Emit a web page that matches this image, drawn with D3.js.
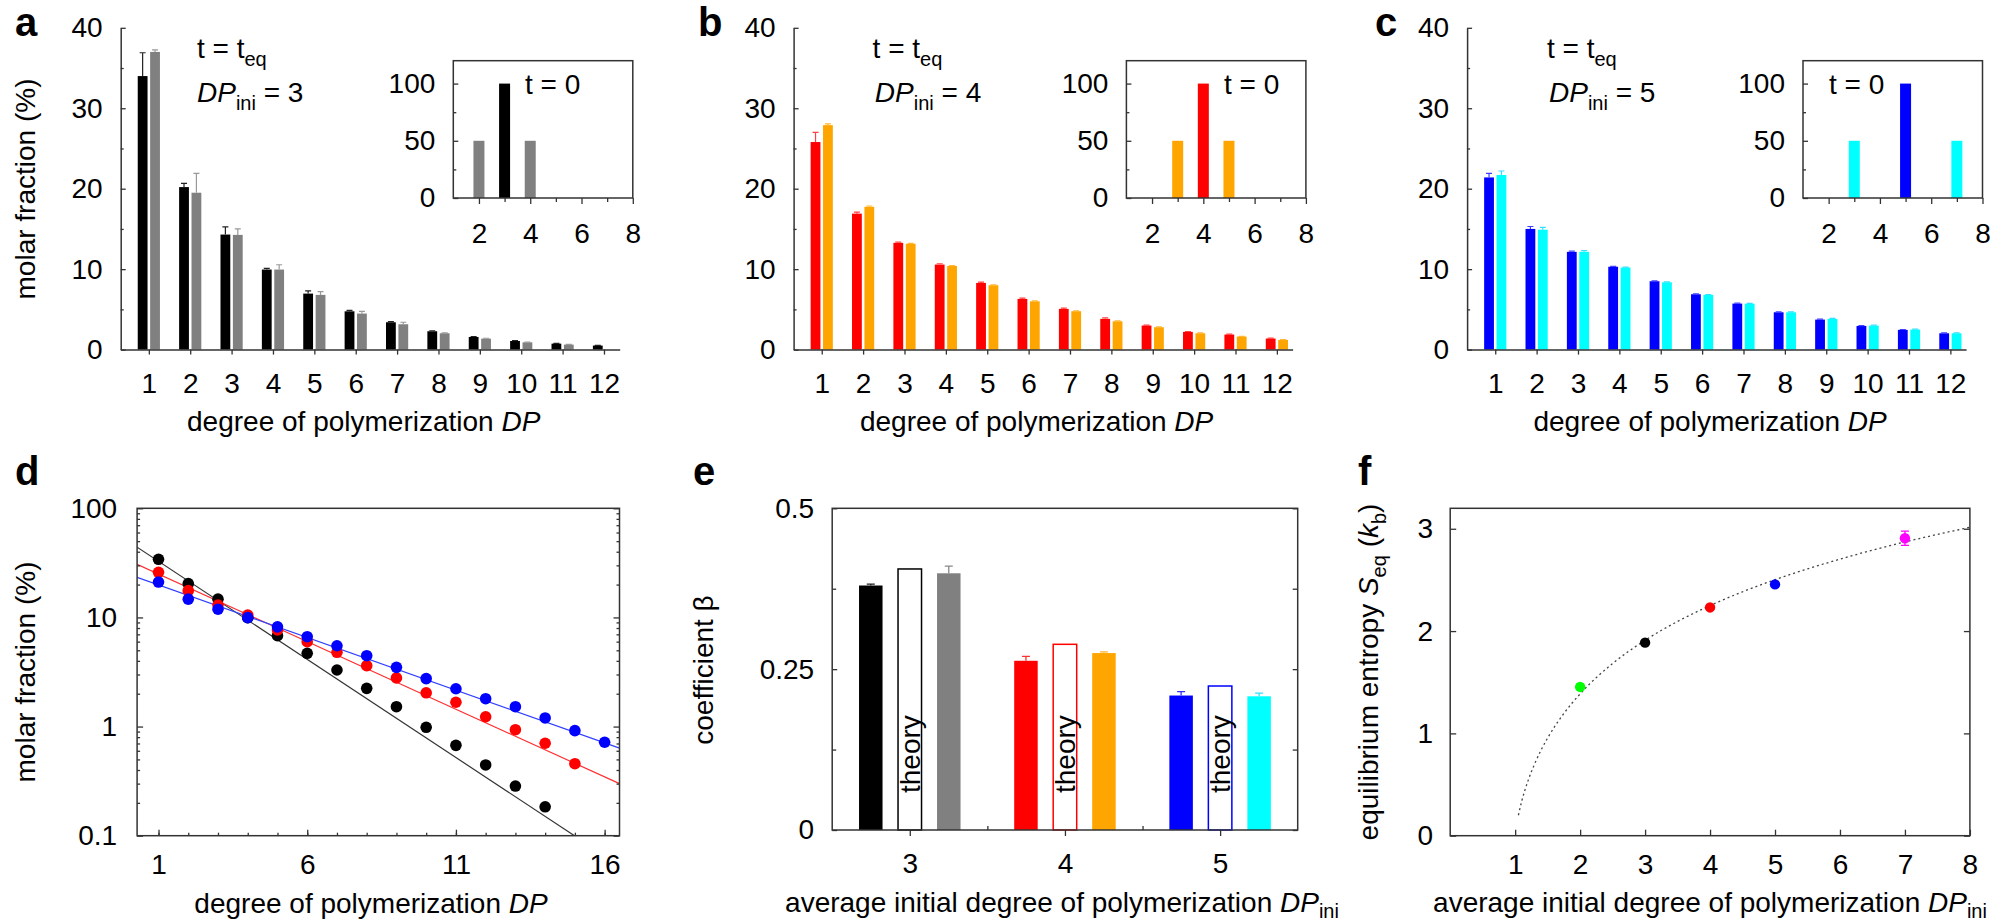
<!DOCTYPE html>
<html>
<head>
<meta charset="utf-8">
<script src="https://cdn.jsdelivr.net/npm/d3@7"></script>
<style>
  html, body { margin: 0; padding: 0; background: #fff; }
  svg { display: block; font-family: "Liberation Sans", Arial, Helvetica, sans-serif; }
</style>
</head>
<body>
<svg id="fig" width="2005" height="923"></svg>
<script>
// ---------------- data ----------------
// panels a-c: molar fraction (%) at equilibrium per degree of polymerization
const dpCategories = [1, 2, 3, 4, 5, 6, 7, 8, 9, 10, 11, 12];
const mainYTicks = [0, 10, 20, 30, 40];
const mainYMinor = [5, 15, 25, 35];

const aDark     = [34.0, 20.2, 14.3, 9.95, 6.96, 4.76, 3.40, 2.28, 1.57, 1.07, 0.74, 0.50];
const aDarkErr  = [2.9, 0.45, 0.95, 0.15, 0.35, 0.12, 0.08, 0.06, 0.06, 0.05, 0.04, 0.03];
const aLight    = [37.0, 19.5, 14.26, 9.95, 6.80, 4.48, 3.15, 2.03, 1.36, 0.90, 0.62, 0];
const aLightErr = [0.25, 2.4, 0.75, 0.6, 0.4, 0.28, 0.25, 0.05, 0.05, 0.04, 0.03, 0];

const bDark     = [25.8, 16.9, 13.27, 10.57, 8.29, 6.30, 5.06, 3.82, 2.99, 2.20, 1.87, 1.37];
const bDarkErr  = [1.2, 0.2, 0.1, 0.1, 0.1, 0.1, 0.1, 0.13, 0.05, 0.05, 0.05, 0.05];
const bLight    = [27.9, 17.75, 13.15, 10.4, 8.0, 6.0, 4.77, 3.52, 2.78, 2.03, 1.62, 1.20];
const bLightErr = [0.15, 0.1, 0.05, 0.05, 0.05, 0.05, 0.05, 0.05, 0.05, 0.04, 0.03, 0.03];

const cDark     = [21.4, 15.0, 12.15, 10.3, 8.5, 6.88, 5.72, 4.64, 3.73, 2.94, 2.45, 2.03];
const cDarkErr  = [0.5, 0.3, 0.1, 0.05, 0.05, 0.05, 0.05, 0.05, 0.05, 0.05, 0.05, 0.05];
const cLight    = [21.7, 14.9, 12.15, 10.2, 8.37, 6.8, 5.7, 4.64, 3.82, 2.98, 2.49, 2.03];
const cLightErr = [0.5, 0.3, 0.15, 0.05, 0.05, 0.05, 0.05, 0.05, 0.05, 0.05, 0.05, 0.05];

// insets: initial distribution at t = 0
const insetXTicks = [2, 4, 6, 8];
const insetXMinor = [3, 5, 7];
const insetYTicks = [0, 50, 100];
const insetYMinor = [25, 75];
const insetADP = [2, 3, 4], insetAVal = [50, 100, 50], insetARole = ["light", "dark", "light"];
const insetBDP = [3, 4, 5], insetBVal = [50, 100, 50], insetBRole = ["light", "dark", "light"];
const insetCDP = [3, 5, 7], insetCVal = [50, 100, 50], insetCRole = ["light", "dark", "light"];

// panel d: semi-log distributions with exponential fits
const dDP     = [1, 2, 3, 4, 5, 6, 7, 8, 9, 10, 11, 12, 13, 14, 15, 16];
const dBlack  = [34.1, 20.4, 14.7, 9.95, 6.8, 4.69, 3.3, 2.24, 1.52, 0.985, 0.673, 0.445, 0.285, 0.184];
const dRed    = [25.9, 17.6, 13.0, 10.5, 7.67, 6.0, 4.79, 3.61, 2.79, 2.04, 1.67, 1.23, 0.936, 0.703, 0.457];
const dBlue   = [21.1, 14.7, 11.9, 9.95, 8.2, 6.66, 5.5, 4.46, 3.49, 2.75, 2.22, 1.8, 1.52, 1.2, 0.917, 0.718];
const dFitX   = [0.28, 16.5];
const dFitBlack = [44.0, 0.0534];
const dFitRed   = [30.7, 0.30];
const dFitBlue  = [23.3, 0.634];
const dYTicks = [0.1, 1, 10, 100];
const dXTicks = [1, 6, 11, 16];

// panel e: coefficient beta
const eGroups    = [3, 4, 5];
const eDark      = [0.380, 0.263, 0.209];
const eDarkErr   = [0.002, 0.007, 0.006];
const eTheory    = [0.4057, 0.2886, 0.2238];
const eLight     = [0.399, 0.275, 0.2078];
const eLightErr  = [0.011, 0.002, 0.005];
const eYTicks = [0, 0.25, 0.5];
const eYMinor = [0.125, 0.375];

// panel f: equilibrium entropy
const fX    = [2, 3, 4, 5, 7];
const fY    = [1.454, 1.887, 2.231, 2.456, 2.907];
const fErr  = [0.02, 0.015, 0.02, 0.02, 0.07];
const fCurveX = [1.05, 1.1, 1.15, 1.2, 1.3, 1.4, 1.5, 1.75, 2, 2.5, 3, 3.5, 4, 4.5, 5, 5.5, 6, 6.5, 7, 7.5, 8];
const fCurveY = [0.20, 0.335, 0.445, 0.541, 0.702, 0.838, 0.955, 1.195, 1.386, 1.683, 1.910, 2.094, 2.249, 2.384, 2.502, 2.608, 2.703, 2.791, 2.871, 2.945, 3.014];
const fXTicks = [1, 2, 3, 4, 5, 6, 7, 8];
const fYTicks = [0, 1, 2, 3];

// ---------------- drawing ----------------
const svg = d3.select("#fig");
const AX = "#333";
const FONT = 28;
const SUB = 20;
const asText = d => String(d);

function addAxis(g, axis, tx, ty, noDomain) {
  const a = g.append("g").attr("transform", `translate(${tx},${ty})`).call(axis);
  a.attr("font-family", null).attr("font-size", null);
  a.select(".domain").attr("stroke", AX).attr("stroke-width", 1.5);
  if (noDomain) a.select(".domain").remove();
  a.selectAll(".tick line").attr("stroke", AX).attr("stroke-width", 1.3);
  a.selectAll(".tick text").attr("fill", "#000").attr("font-size", FONT);
  return a;
}

function panelLetter(x, y, s) {
  svg.append("text").attr("x", x).attr("y", y).attr("font-size", 40)
    .attr("font-weight", "bold").text(s);
}

function frame(g, x0, y0, x1, y1) {
  g.append("rect").attr("x", x0).attr("y", y0).attr("width", x1 - x0).attr("height", y1 - y0)
    .attr("fill", "none").attr("stroke", AX).attr("stroke-width", 1.5);
}

function errPath(cx, yv, ye, cap) {
  return `M${cx},${yv}V${ye}M${cx - cap},${ye}H${cx + cap}`;
}

function dpIniText(g, x, y, n) {
  const t = g.append("text").attr("x", x).attr("y", y).attr("font-size", FONT);
  t.append("tspan").attr("font-style", "italic").text("DP");
  t.append("tspan").attr("font-size", SUB).attr("dy", 8).text("ini");
  t.append("tspan").attr("dy", -8).text(" = " + n);
}

function teqText(g, x, y) {
  const t = g.append("text").attr("x", x).attr("y", y).attr("font-size", FONT);
  t.append("tspan").text("t = t");
  t.append("tspan").attr("font-size", SUB).attr("dy", 8).text("eq");
}

function dpIniAxisTitle(g, x, y) {
  const xl = g.append("text").attr("x", x).attr("y", y).attr("text-anchor", "middle").attr("font-size", FONT);
  xl.append("tspan").text("average initial degree of polymerization ");
  xl.append("tspan").attr("font-style", "italic").text("DP");
  xl.append("tspan").attr("font-size", SUB).attr("dy", 6).text("ini");
}

// ---- panels a, b, c ----
const topPanels = [
  { letter: "a", lx: 15, left: 120.7, dark: aDark, darkErr: aDarkErr, light: aLight, lightErr: aLightErr,
    cDark: "#000000", cLight: "#808080", eDark: "#222222", eLight: "#999999",
    teqX: 197, dpX: 197, ini: 3, insetLeft: 453.3, iDP: insetADP, iVal: insetAVal, iRole: insetARole, t0X: 525 },
  { letter: "b", lx: 698, left: 793.6, dark: bDark, darkErr: bDarkErr, light: bLight, lightErr: bLightErr,
    cDark: "#ff0000", cLight: "#ffa500", eDark: "#ff4040", eLight: "#ffb733",
    teqX: 872.6, dpX: 874.8, ini: 4, insetLeft: 1126.4, iDP: insetBDP, iVal: insetBVal, iRole: insetBRole, t0X: 1224 },
  { letter: "c", lx: 1375, left: 1467.1, dark: cDark, darkErr: cDarkErr, light: cLight, lightErr: cLightErr,
    cDark: "#0000ff", cLight: "#00ffff", eDark: "#4040ff", eLight: "#33e0ff",
    teqX: 1547, dpX: 1549, ini: 5, insetLeft: 1803, iDP: insetCDP, iVal: insetCVal, iRole: insetCRole, t0X: 1829 }
];

topPanels.forEach(p => {
  const g = svg.append("g");
  const x = d3.scaleLinear().domain([0.32, 12.38]).range([p.left, p.left + 499]);
  const y = d3.scaleLinear().domain([0, 40]).range([349.6, 27.8]);
  const w = 9.8, gap = 1.3;

  const rows = dpCategories.map((k, i) => ({ k, v: p.dark[i], e: p.darkErr[i], side: -1, c: p.cDark, ec: p.eDark }))
    .concat(dpCategories.map((k, i) => ({ k, v: p.light[i], e: p.lightErr[i], side: 1, c: p.cLight, ec: p.eLight })))
    .filter(d => d.v > 0);
  const cx = d => d.side < 0 ? x(d.k) - gap - w / 2 : x(d.k) + gap + w / 2;

  g.selectAll("rect.bar").data(rows).join("rect").attr("class", "bar")
    .attr("x", d => cx(d) - w / 2).attr("width", w)
    .attr("y", d => y(d.v)).attr("height", d => y(0) - y(d.v))
    .attr("fill", d => d.c);
  g.selectAll("path.err").data(rows.filter(d => d.e > 0)).join("path").attr("class", "err")
    .attr("d", d => errPath(cx(d), y(d.v), y(d.v + d.e), 3))
    .attr("fill", "none").attr("stroke", d => d.ec).attr("stroke-width", 1.2);

  addAxis(g, d3.axisLeft(y).tickValues(mainYTicks).tickFormat(asText).tickSize(-5).tickSizeOuter(0).tickPadding(18), p.left, 0);
  addAxis(g, d3.axisLeft(y).tickValues(mainYMinor).tickSize(-3).tickSizeOuter(0).tickFormat(""), p.left, 0, true);
  addAxis(g, d3.axisBottom(x).tickValues(dpCategories).tickFormat(asText).tickSize(5).tickSizeOuter(0).tickPadding(19), 0, y(0));

  // axis titles
  if (p.letter === "a") {
    g.append("text").attr("transform", "translate(35,189) rotate(-90)")
      .attr("text-anchor", "middle").attr("font-size", FONT).text("molar fraction (%)");
  }
  const xl = g.append("text").attr("x", p.left + 243).attr("y", 431)
    .attr("text-anchor", "middle").attr("font-size", FONT);
  xl.append("tspan").text("degree of polymerization ");
  xl.append("tspan").attr("font-style", "italic").text("DP");

  teqText(g, p.teqX, 58);
  dpIniText(g, p.dpX, 101.5, p.ini);
  panelLetter(p.lx, 36, p.letter);

  // inset
  const ig = svg.append("g");
  const ix = d3.scaleLinear().domain([1, 8]).range([p.insetLeft, p.insetLeft + 179.5]);
  const iy = d3.scaleLinear().domain([0, 120]).range([198, 60.7]);
  const iw = 11;
  ig.selectAll("rect").data(p.iDP.map((k, i) => ({ k, v: p.iVal[i], r: p.iRole[i] }))).join("rect")
    .attr("x", d => ix(d.k) - iw / 2).attr("width", iw)
    .attr("y", d => iy(d.v)).attr("height", d => iy(0) - iy(d.v))
    .attr("fill", d => d.r === "dark" ? p.cDark : p.cLight);
  addAxis(ig, d3.axisLeft(iy).tickValues(insetYTicks).tickFormat(asText).tickSize(-5).tickSizeOuter(0).tickPadding(18), p.insetLeft, 0, true);
  addAxis(ig, d3.axisLeft(iy).tickValues(insetYMinor).tickSize(-3).tickSizeOuter(0).tickFormat(""), p.insetLeft, 0, true);
  addAxis(ig, d3.axisBottom(ix).tickValues(insetXTicks).tickFormat(asText).tickSize(6).tickSizeOuter(0).tickPadding(19), 0, 198, true);
  addAxis(ig, d3.axisBottom(ix).tickValues(insetXMinor).tickSize(4).tickSizeOuter(0).tickFormat(""), 0, 198, true);
  frame(ig, p.insetLeft, 60.7, p.insetLeft + 179.5, 198);
  ig.append("text").attr("x", p.t0X).attr("y", 94).attr("font-size", FONT).text("t = 0");
});

// ---- panel d ----
{
  const g = svg.append("g");
  const L = 137.1, R = 619.5, T = 508.3, B = 835.7;
  const x = d3.scaleLinear().domain([0.28, 16.5]).range([L, R]);
  const y = d3.scaleLog().domain([0.1, 100]).range([B, T]);
  const minor = y.ticks().filter(v => dYTicks.indexOf(v) < 0);

  svg.append("clipPath").attr("id", "clipD").append("rect")
    .attr("x", L).attr("y", T).attr("width", R - L).attr("height", B - T);
  const line = d3.line().x(d => x(d[0])).y(d => y(d[1]));
  const fits = [[dFitBlack, "#333333"], [dFitRed, "#ff3030"], [dFitBlue, "#3040ff"]];
  fits.forEach(([f, c]) => {
    g.append("path").attr("clip-path", "url(#clipD)")
      .attr("d", line([[dFitX[0], f[0]], [dFitX[1], f[1]]]))
      .attr("fill", "none").attr("stroke", c).attr("stroke-width", 1.2);
  });
  [[dBlack, "#000000"], [dRed, "#ff0000"], [dBlue, "#0000ff"]].forEach(([vals, c]) => {
    g.append("g").selectAll("circle").data(vals.map((v, i) => [dDP[i], v])).join("circle")
      .attr("cx", d => x(d[0])).attr("cy", d => y(d[1])).attr("r", 5.8).attr("fill", c);
  });

  addAxis(g, d3.axisLeft(y).tickValues(dYTicks).tickFormat(asText).tickSize(-6).tickSizeOuter(0).tickPadding(20), L, 0, true);
  addAxis(g, d3.axisLeft(y).tickValues(minor).tickFormat("").tickSize(-3).tickSizeOuter(0), L, 0, true);
  addAxis(g, d3.axisRight(y).tickValues(dYTicks).tickFormat("").tickSize(-6).tickSizeOuter(0), R, 0, true);
  addAxis(g, d3.axisRight(y).tickValues(minor).tickFormat("").tickSize(-3).tickSizeOuter(0), R, 0, true);
  addAxis(g, d3.axisBottom(x).tickValues(dXTicks).tickFormat(asText).tickSize(-6).tickSizeOuter(0).tickPadding(18), 0, B, true);
  addAxis(g, d3.axisBottom(x).tickValues(dDP).tickFormat("").tickSize(-3).tickSizeOuter(0), 0, B, true);
  frame(g, L, T, R, B);

  g.append("text").attr("transform", "translate(35,672) rotate(-90)")
    .attr("text-anchor", "middle").attr("font-size", FONT).text("molar fraction (%)");
  const xl = g.append("text").attr("x", 371).attr("y", 913).attr("text-anchor", "middle").attr("font-size", FONT);
  xl.append("tspan").text("degree of polymerization ");
  xl.append("tspan").attr("font-style", "italic").text("DP");
  panelLetter(15, 485, "d");
}

// ---- panel e ----
{
  const g = svg.append("g");
  const L = 832.2, R = 1297.7, T = 508.3, B = 830;
  const x = d3.scaleBand().domain(eGroups).range([L, R]);
  const y = d3.scaleLinear().domain([0, 0.5]).range([B, T]);
  const bw = 23.5, step = 39;
  const cols = [["#000000", "#808080"], ["#ff0000", "#ffa500"], ["#0000ff", "#00ffff"]];
  const errCols = [["#222222", "#888888"], ["#ff3030", "#ffb733"], ["#3030ff", "#33e0ff"]];
  const mid = k => x(k) + x.bandwidth() / 2;

  eGroups.forEach((k, i) => {
    const cx = mid(k);
    // measured (left), theory (centre), measured (right)
    g.append("rect").attr("x", cx - step - bw / 2).attr("width", bw)
      .attr("y", y(eDark[i])).attr("height", y(0) - y(eDark[i])).attr("fill", cols[i][0]);
    g.append("path").attr("d", errPath(cx - step, y(eDark[i]), y(eDark[i] + eDarkErr[i]), 4))
      .attr("stroke", errCols[i][0]).attr("stroke-width", 1.3).attr("fill", "none");
    g.append("rect").attr("x", cx - bw / 2).attr("width", bw)
      .attr("y", y(eTheory[i])).attr("height", y(0) - y(eTheory[i]))
      .attr("fill", "#fff").attr("stroke", cols[i][0]).attr("stroke-width", 1.5);
    g.append("text").attr("transform", `translate(${cx + 10},${y(0) - 37}) rotate(-90)`)
      .attr("font-size", FONT).text("theory");
    g.append("rect").attr("x", cx + step - bw / 2).attr("width", bw)
      .attr("y", y(eLight[i])).attr("height", y(0) - y(eLight[i])).attr("fill", cols[i][1]);
    g.append("path").attr("d", errPath(cx + step, y(eLight[i]), y(eLight[i] + eLightErr[i]), 4))
      .attr("stroke", errCols[i][1]).attr("stroke-width", 1.3).attr("fill", "none");
  });

  addAxis(g, d3.axisLeft(y).tickValues(eYTicks).tickFormat(asText).tickSize(-5).tickSizeOuter(0).tickPadding(18), L, 0, true);
  addAxis(g, d3.axisLeft(y).tickValues(eYMinor).tickFormat("").tickSize(-4).tickSizeOuter(0), L, 0, true);
  addAxis(g, d3.axisRight(y).tickValues(eYTicks.concat(eYMinor)).tickFormat("").tickSize(-5).tickSizeOuter(0), R, 0, true);
  const xAxis = d3.axisBottom(d3.scalePoint().domain(eGroups).range([mid(3), mid(5)]))
    .tickSize(6).tickSizeOuter(0).tickPadding(17);
  addAxis(g, xAxis, 0, B, true);
  const bounds = d3.scaleLinear().domain([0, 3]).range([L, R]);
  addAxis(g, d3.axisBottom(bounds).tickValues([1, 2]).tickFormat("").tickSize(-4).tickSizeOuter(0), 0, B, true);
  frame(g, L, T, R, B);

  g.append("text").attr("transform", "translate(713,670) rotate(-90)")
    .attr("text-anchor", "middle").attr("font-size", FONT).text("coefficient β");
  dpIniAxisTitle(g, 1062, 912);
  panelLetter(693, 485, "e");
}

// ---- panel f ----
{
  const g = svg.append("g");
  const L = 1450.2, R = 1969.9, T = 508.3, B = 835.7;
  const x = d3.scaleLinear().domain([0, 8]).range([L, R]);
  const y = d3.scaleLinear().domain([0, 3.2]).range([B, T]);
  const colors = ["#00ff00", "#000000", "#ff0000", "#0000ff", "#ff00ff"];

  g.append("path")
    .attr("d", d3.line().curve(d3.curveMonotoneX).x(d => x(d[0])).y(d => y(d[1]))(fCurveX.map((v, i) => [v, fCurveY[i]])))
    .attr("fill", "none").attr("stroke", "#444").attr("stroke-width", 1.3).attr("stroke-dasharray", "2,3");

  const pts = fX.map((v, i) => ({ x: v, y: fY[i], e: fErr[i], c: colors[i] }));
  g.selectAll("path.err").data(pts).join("path").attr("class", "err")
    .attr("d", d => `M${x(d.x)},${y(d.y - d.e)}V${y(d.y + d.e)}M${x(d.x) - 4},${y(d.y - d.e)}H${x(d.x) + 4}M${x(d.x) - 4},${y(d.y + d.e)}H${x(d.x) + 4}`)
    .attr("stroke", d => d.c).attr("stroke-width", 1.3).attr("fill", "none");
  g.selectAll("circle").data(pts).join("circle")
    .attr("cx", d => x(d.x)).attr("cy", d => y(d.y)).attr("r", 5.2).attr("fill", d => d.c);

  addAxis(g, d3.axisLeft(y).tickValues(fYTicks).tickFormat(asText).tickSize(-6).tickSizeOuter(0).tickPadding(17), L, 0, true);
  addAxis(g, d3.axisRight(y).tickValues(fYTicks).tickFormat("").tickSize(-6).tickSizeOuter(0), R, 0, true);
  addAxis(g, d3.axisBottom(x).tickValues(fXTicks).tickFormat(asText).tickSize(-6).tickSizeOuter(0).tickPadding(18), 0, B, true);
  frame(g, L, T, R, B);

  const yl = g.append("text").attr("transform", "translate(1378,672) rotate(-90)")
    .attr("text-anchor", "middle").attr("font-size", FONT);
  yl.append("tspan").text("equilibrium entropy ");
  yl.append("tspan").attr("font-style", "italic").text("S");
  yl.append("tspan").attr("font-size", SUB).attr("dy", 8).text("eq");
  yl.append("tspan").attr("dy", -8).text(" (");
  yl.append("tspan").attr("font-style", "italic").text("k");
  yl.append("tspan").attr("font-size", SUB).attr("dy", 8).text("b");
  yl.append("tspan").attr("dy", -8).text(")");

  dpIniAxisTitle(g, 1710, 912);
  panelLetter(1358, 485, "f");
}
</script>
</body>
</html>
